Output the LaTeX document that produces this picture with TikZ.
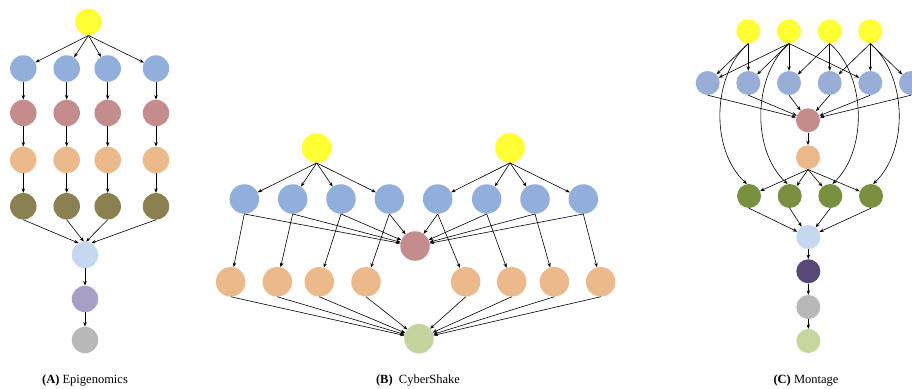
\documentclass[tikz,border=0pt]{standalone}
\usepackage{fontspec}
\setmainfont{Liberation Serif}
\usetikzlibrary{arrows.meta}
\definecolor{cyel}{HTML}{FFFF33}
\definecolor{cblu}{HTML}{92AEDB}
\definecolor{cmblu}{HTML}{98AED6}
\definecolor{crose}{HTML}{C48C8C}
\definecolor{cpeach}{HTML}{EBB98A}
\definecolor{colive}{HTML}{8A8050}
\definecolor{clblu}{HTML}{C6D8F0}
\definecolor{clav}{HTML}{A89EC6}
\definecolor{cgray}{HTML}{B8B8B8}
\definecolor{ccgreen}{HTML}{C4D49C}
\definecolor{cmgreen}{HTML}{78903F}
\definecolor{cpurp}{HTML}{574878}
\definecolor{clgreen}{HTML}{C6D69E}
\tikzset{
  dot/.style={circle,inner sep=0pt,draw=none},
  ea/.style={dot,minimum size=26.5pt},
  eb/.style={dot,minimum size=29.5pt},
  ec/.style={dot,minimum size=24pt},
  arr/.style={-{Stealth[length=4.5pt,width=3.4pt]},line width=0.6pt,black},
  capstyle/.style={font=\fontsize{12.5}{14}\selectfont,anchor=center}
}
\begin{document}
\begin{tikzpicture}[x=1pt,y=-1pt]
\useasboundingbox (0,0) rectangle (912,388);
\clip (0,0) rectangle (912,388);
% ---------------- Epigenomics ----------------
\node[ea,fill=cyel] (aY) at (88.5,22) {};
\foreach \i/\x in {1/23.3,2/66.7,3/107.7,4/156}{
  \node[ea,fill=cblu] (aB\i) at (\x,68.5) {};
  \node[ea,fill=crose] (aR\i) at (\x,113) {};
  \node[ea,fill=cpeach] (aP\i) at (\x,160) {};
  \node[ea,fill=colive] (aO\i) at (\x,206.3) {};
}
\node[ea,fill=clblu] (aL) at (85,255) {};
\node[ea,fill=clav] (aV) at (85,299) {};
\node[ea,fill=cgray] (aG) at (85,340) {};
\foreach \i in {1,...,4}{
  \draw[arr] (aY.south) -- (aB\i);
  \draw[arr] (aB\i) -- (aR\i);
  \draw[arr] (aR\i) -- (aP\i);
  \draw[arr] (aP\i) -- (aO\i);
}
\draw[arr] (aO1.south) -- (aL.118);
\draw[arr] (aO2.south) -- (aL.95);
\draw[arr] (aO3.south) -- (aL.85);
\draw[arr] (aO4.south) -- (aL.62);
\draw[arr] (aL) -- (aV);
\draw[arr] (aV) -- (aG);
\node[capstyle] (capA) at (85,381) {\textbf{(A)} Epigenomics};
% ---------------- CyberShake ----------------
\node[eb,fill=cyel] (bY1) at (316.7,148) {};
\node[eb,fill=cyel] (bY2) at (510,148) {};
\node[eb,fill=crose] (bR) at (415,246) {};
\node[eb,fill=ccgreen] (bG) at (419,338.7) {};
\foreach \i/\x/\px in {1/244.3/230.7,2/292.7/277.3,3/341/319.3,4/389.3/366,5/437.7/465.7,6/486.7/511.7,7/535/554.3,8/583.3/600.7}{
  \node[eb,fill=cblu] (bB\i) at (\x,199) {};
  \node[eb,fill=cpeach] (bP\i) at (\px,281.8) {};
}
\foreach \i in {1,...,4}{ \draw[arr] (bY1.south) -- (bB\i); }
\foreach \i in {5,...,8}{ \draw[arr] (bY2.south) -- (bB\i); }
\foreach \i in {1,...,8}{
  \draw[arr] (bB\i.south) -- (bR);
  \draw[arr] (bB\i.south) -- (bP\i);
  \draw[arr] (bP\i.south) -- (bG);
}
\node[capstyle] (capB) at (418,381) {\textbf{(B)}\ \ CyberShake};
% ---------------- Montage ----------------
\foreach \i/\x in {1/748.3,2/789,3/829.7,4/870.3}{
  \node[ec,fill=cyel] (cY\i) at (\x,31.3) {};
}
\foreach \i/\x in {1/707.7,2/748.3,3/789,4/829.7,5/870.3,6/911}{
  \node[ec,fill=cmblu] (cB\i) at (\x,83) {};
}
\node[ec,fill=crose] (cR) at (808,120.3) {};
\node[ec,fill=cpeach] (cP) at (808,157.3) {};
\foreach \i/\x in {1/749,2/789.7,3/830.3,4/871}{
  \node[ec,fill=cmgreen] (cG\i) at (\x,196) {};
}
\node[ec,fill=clblu] (cL) at (808.3,237) {};
\node[ec,fill=cpurp] (cU) at (808.3,271.3) {};
\node[ec,fill=cgray] (cA) at (808.3,307) {};
\node[ec,fill=clgreen] (cE) at (808.3,341) {};
% yellow -> blue
\draw[arr] (cY1.south) -- (cB1);
\draw[arr] (cY1.south) -- (cB2);
\draw[arr] (cY2.south) -- (cB1);
\draw[arr] (cY2.south) -- (cB2);
\draw[arr] (cY2.south) -- (cB3);
\draw[arr] (cY2.south) -- (cB5);
\draw[arr] (cY3.south) -- (cB3);
\draw[arr] (cY3.south) -- (cB4);
\draw[arr] (cY4.south) -- (cB4);
\draw[arr] (cY4.south) -- (cB5);
\draw[arr] (cY4.south) -- (cB6);
% long curves yellow -> green
\draw[arr] (cY1.south) .. controls (712,75) and (710,150) .. (cG1.100);
\draw[arr] (cY2.south) .. controls (753,75) and (751,150) .. (cG2.100);
\draw[arr] (cY3.south) .. controls (866,75) and (868,150) .. (cG3.80);
\draw[arr] (cY4.south) .. controls (907,75) and (909,150) .. (cG4.80);
% blue -> rose
\foreach \i in {1,...,6}{ \draw[arr] (cB\i.south) -- (cR); }
\draw[arr] (cR) -- (cP);
\foreach \i in {1,...,4}{
  \draw[arr] (cP.south) -- (cG\i);
  \draw[arr] (cG\i.south) -- (cL);
}
\draw[arr] (cL) -- (cU);
\draw[arr] (cU) -- (cA);
\draw[arr] (cA) -- (cE);
\node[capstyle] (capC) at (806,381) {\textbf{(C)} Montage};
\end{tikzpicture}
\end{document}
